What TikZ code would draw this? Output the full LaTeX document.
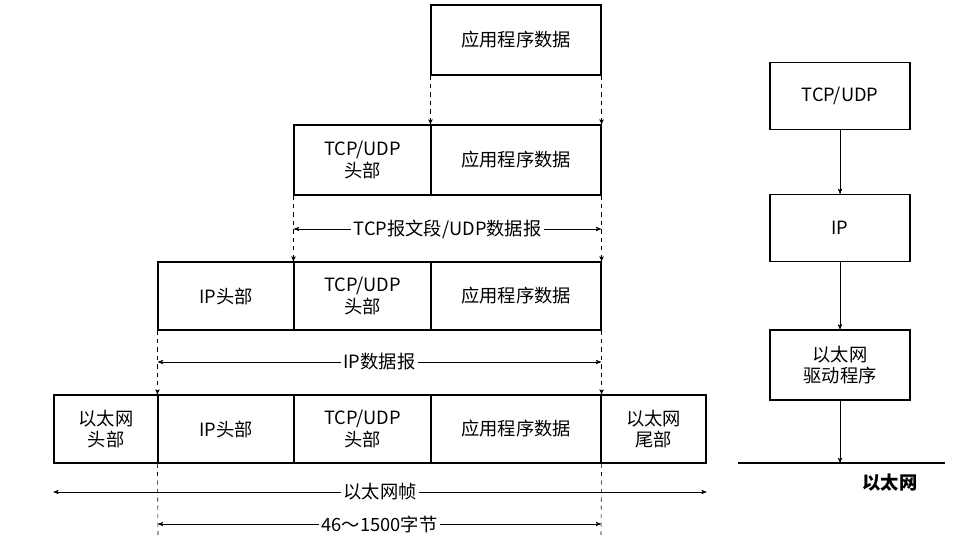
\documentclass[tikz,border=0pt]{standalone}
\usepackage{fontspec}
\newfontfamily\cjk{Noto Sans CJK SC}
\usetikzlibrary{arrows,positioning}
\tikzset{
  cell/.style={draw,thick,rectangle,inner sep=0pt,align=center,font=\cjk\fontsize{13}{15}\selectfont},
  dim/.style={<->,>=stealth',thin},
  dimtext/.style={fill=white,inner sep=2pt,font=\cjk\fontsize{13}{15}\selectfont},
  guide/.style={dashed,thin}
}
\begin{document}
\begin{tikzpicture}[x=0.025cm,y=-0.025cm]
  \useasboundingbox (0,0) rectangle (974,544);

  % layer stack
  \node[cell,minimum width=170*0.025cm,minimum height=70*0.025cm] (app1) at (516,40) {应用程序数据};

  \node[cell,minimum width=137*0.025cm,minimum height=70*0.025cm] (tcp2) at (362.5,160) {TCP/UDP\\头部};
  \node[cell,minimum width=170*0.025cm,minimum height=70*0.025cm] (app2) at (516,160) {应用程序数据};

  \node[cell,minimum width=136*0.025cm,minimum height=68*0.025cm] (ip3) at (226,296) {IP头部};
  \node[cell,minimum width=137*0.025cm,minimum height=68*0.025cm] (tcp3) at (362.5,296) {TCP/UDP\\头部};
  \node[cell,minimum width=170*0.025cm,minimum height=68*0.025cm] (app3) at (516,296) {应用程序数据};

  \node[cell,minimum width=104*0.025cm,minimum height=68*0.025cm] (eth4) at (106,429) {以太网\\头部};
  \node[cell,minimum width=136*0.025cm,minimum height=68*0.025cm] (ip4) at (226,429) {IP头部};
  \node[cell,minimum width=137*0.025cm,minimum height=68*0.025cm] (tcp4) at (362.5,429) {TCP/UDP\\头部};
  \node[cell,minimum width=170*0.025cm,minimum height=68*0.025cm] (app4) at (516,429) {应用程序数据};
  \node[cell,minimum width=105*0.025cm,minimum height=68*0.025cm] (tail4) at (653.5,429) {以太网\\尾部};

  % encapsulation guides
  \draw[guide,->,>=stealth'] (app1.south west) -- (app2.north west);
  \draw[guide,->,>=stealth'] (app1.south east) -- (app2.north east);
  \draw[guide,->,>=stealth'] (tcp2.south west) -- (tcp3.north west);
  \draw[guide,->,>=stealth'] (app2.south east) -- (app3.north east);
  \draw[guide,->,>=stealth'] (ip3.south west) -- (ip4.north west);
  \draw[guide,->,>=stealth'] (app3.south east) -- (app4.north east);
  \coordinate (l1) at (158,535);
  \coordinate (r1) at (601,535);
  \draw[guide] (ip4.south west) -- (l1);
  \draw[guide] (app4.south east) -- (r1);

  % dimensions
  \draw[dim] (294,229) -- node[dimtext] {TCP报文段/UDP数据报} (601,229);
  \draw[dim] (158,362) -- node[dimtext] {IP数据报} (601,362);
  \draw[dim] (eth4.south west |- 0,492) -- node[dimtext] {以太网帧} (tail4.south east |- 0,492);
  \draw[dim] (158,524) -- node[dimtext] {46～1500字节} (601,524);

  % protocol layers
  \node[cell,minimum width=140*0.025cm,minimum height=67*0.025cm] (tcpl) at (840,96) {TCP/UDP};
  \node[cell,minimum width=140*0.025cm,minimum height=67*0.025cm] (ipl) at (840,228) {IP};
  \node[cell,minimum width=140*0.025cm,minimum height=70*0.025cm] (drv) at (840,365) {以太网\\驱动程序};
  \coordinate (wl) at (738,463);
  \coordinate (wr) at (945,463);
  \draw[thick] (wl) -- (wr);
  \node[font=\cjk\bfseries\fontsize{13}{15}\selectfont] (net) at (890,483) {以太网};
  \draw[->,>=stealth'] (tcpl) -- (ipl);
  \draw[->,>=stealth'] (ipl) -- (drv);
  \draw[->,>=stealth'] (drv.south) -- (drv.south |- wl);
\end{tikzpicture}
\end{document}
